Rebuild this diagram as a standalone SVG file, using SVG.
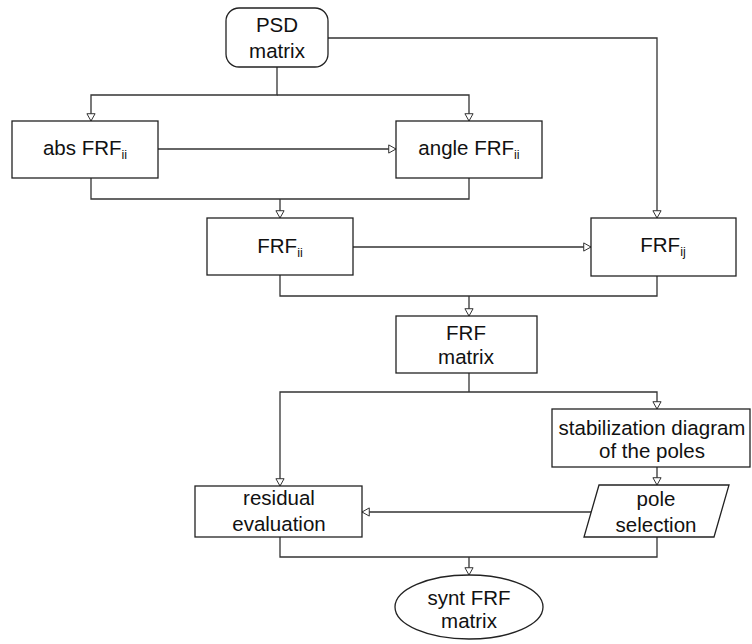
<svg xmlns="http://www.w3.org/2000/svg" width="752" height="644" viewBox="0 0 752 644">
<style>
.box{fill:#fff;stroke:#222;stroke-width:1.3}
.ln{fill:none;stroke:#333;stroke-width:1.3}
.t{font-family:"Liberation Sans",Arial,sans-serif;font-size:20.5px;fill:#111;text-anchor:middle}
.sub{font-size:12.5px}
</style>
<defs>
<marker id="arr" markerUnits="userSpaceOnUse" markerWidth="10" markerHeight="10" refX="8" refY="4.5" orient="auto" viewBox="-1 -1 10 11">
<path d="M0,0 L8,4.5 L0,9 z" fill="#fff" stroke="#333" stroke-width="1.1"/>
</marker>
</defs>
<rect width="752" height="644" fill="#fff"/>
<g id="connectors">
<path class="ln" d="M277,67 V95 H91 V121" marker-end="url(#arr)"/>
<path class="ln" d="M277,95 H469 V121" marker-end="url(#arr)"/>
<path class="ln" d="M328,38 H657 V218" marker-end="url(#arr)"/>
<path class="ln" d="M158,149 H396" marker-end="url(#arr)"/>
<path class="ln" d="M91,178 V199 H469 V178"/>
<path class="ln" d="M280,199 V218" marker-end="url(#arr)"/>
<path class="ln" d="M353,247 H591" marker-end="url(#arr)"/>
<path class="ln" d="M280,275 V296 H657 V276"/>
<path class="ln" d="M469,296 V316" marker-end="url(#arr)"/>
<path class="ln" d="M469,373 V392"/>
<path class="ln" d="M469,392 H280 V486" marker-end="url(#arr)"/>
<path class="ln" d="M469,392 H657 V409" marker-end="url(#arr)"/>
<path class="ln" d="M657,467 V485" marker-end="url(#arr)"/>
<path class="ln" d="M591,512 H362" marker-end="url(#arr)"/>
<path class="ln" d="M280,537 V557 H657 V537"/>
<path class="ln" d="M469,557 V575" marker-end="url(#arr)"/>
</g>
<g id="psd">
<rect class="box" x="226" y="8" width="102" height="59" rx="13"/>
<text class="t" x="277" y="32">PSD</text>
<text class="t" x="277" y="58">matrix</text>
</g>
<g id="abs">
<rect class="box" x="12" y="121" width="146" height="57"/>
<text class="t" x="85" y="155">abs FRF<tspan class="sub" dy="4">ii</tspan></text>
</g>
<g id="angle">
<rect class="box" x="396" y="121" width="146" height="57"/>
<text class="t" x="469" y="155">angle FRF<tspan class="sub" dy="4">ii</tspan></text>
</g>
<g id="frfii">
<rect class="box" x="207" y="218" width="146" height="57"/>
<text class="t" x="280" y="253">FRF<tspan class="sub" dy="4">ii</tspan></text>
</g>
<g id="frfij">
<rect class="box" x="591" y="218" width="145" height="58"/>
<text class="t" x="663" y="252">FRF<tspan class="sub" dy="4">ij</tspan></text>
</g>
<g id="frfmatrix">
<rect class="box" x="396" y="316" width="141" height="57"/>
<text class="t" x="466" y="340">FRF</text>
<text class="t" x="466" y="364">matrix</text>
</g>
<g id="stab">
<rect class="box" x="552" y="409" width="198" height="58"/>
<text class="t" x="652" y="435">stabilization diagram</text>
<text class="t" x="652" y="458">of the poles</text>
</g>
<g id="residual">
<rect class="box" x="195" y="486" width="167" height="51"/>
<text class="t" x="279" y="505">residual</text>
<text class="t" x="279" y="531">evaluation</text>
</g>
<g id="pole">
<polygon class="box" points="599,485 729,485 714,537 584,537"/>
<text class="t" x="656" y="506">pole</text>
<text class="t" x="656" y="532">selection</text>
</g>
<g id="synt">
<ellipse class="box" cx="469" cy="607" rx="74" ry="32"/>
<text class="t" x="469" y="605">synt FRF</text>
<text class="t" x="469" y="628">matrix</text>
</g>
</svg>
